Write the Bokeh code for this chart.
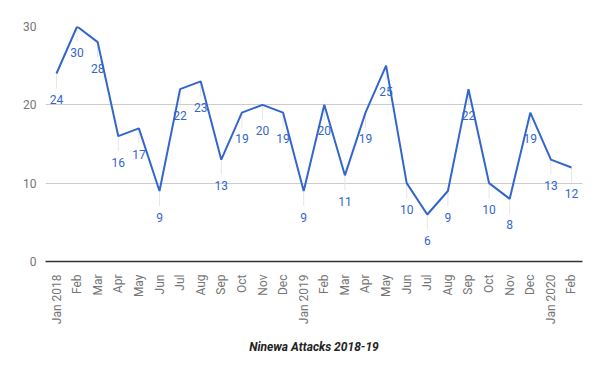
from math import pi
from bokeh.plotting import figure
from bokeh.models import Range1d, FixedTicker, ColumnDataSource
from bokeh.core.properties import value
from bokeh.embed import file_html
from bokeh.resources import INLINE

months = ["Jan 2018", "Feb", "Mar", "Apr", "May", "Jun", "Jul", "Aug", "Sep", "Oct", "Nov", "Dec",
          "Jan 2019", "Feb", "Mar", "Apr", "May", "Jun", "Jul", "Aug", "Sep", "Oct", "Nov", "Dec",
          "Jan 2020", "Feb"]
attacks = [24, 30, 28, 16, 17, 9, 22, 23, 13, 19, 20, 19,
           9, 20, 11, 19, 25, 10, 6, 9, 22, 10, 8, 19,
           13, 12]
y_ticks = [0, 10, 20, 30]
title_text = "Ninewa Attacks 2018-19"

xs = list(range(len(attacks)))
px_per_unit = 235 / 30.0
stem = 15 / px_per_unit
src = ColumnDataSource(dict(x=xs, y=attacks, y1=[v - stem for v in attacks],
                            lbl=[str(v) for v in attacks]))

p = figure(width=592, height=363, output_backend="svg", toolbar_location=None,
           x_range=Range1d(-0.534, len(attacks) - 1 + 0.534), y_range=Range1d(0, 30),
           min_border_left=45, min_border_right=10, min_border_top=26, min_border_bottom=102)
p.outline_line_color = None
p.background_fill_color = "white"

p.segment(x0="x", y0="y", x1="x", y1="y1", source=src, line_color="#e6e6e6", line_width=1)
p.line("x", "y", source=src, line_color="#3366cc", line_width=2)
p.text("x", "y", text="lbl", source=src, y_offset=26, text_align="center", text_baseline="middle",
       text_color="#3366cc", text_font=value("Roboto"), text_font_size="12px")

p.xgrid.grid_line_color = None
p.ygrid.grid_line_color = "#cccccc"
p.ygrid.ticker = FixedTicker(ticks=y_ticks)

p.yaxis.ticker = FixedTicker(ticks=y_ticks)
p.yaxis.axis_line_color = None
p.yaxis.major_tick_line_color = None
p.yaxis.minor_tick_line_color = None
p.yaxis.major_label_text_color = "#757575"
p.yaxis.major_label_text_font = "Roboto"
p.yaxis.major_label_text_font_size = "12px"
p.yaxis.major_label_standoff = 3

p.xaxis.ticker = FixedTicker(ticks=xs)
p.xaxis.major_label_overrides = {i: m for i, m in zip(xs, months)}
p.xaxis.major_label_orientation = pi / 2
p.xaxis.axis_line_color = "#333333"
p.xaxis.axis_line_width = 1.5
p.xaxis.major_tick_line_color = None
p.xaxis.minor_tick_line_color = None
p.xaxis.major_label_text_color = "#757575"
p.xaxis.major_label_text_font = "Roboto"
p.xaxis.major_label_text_font_size = "12px"
p.xaxis.major_label_standoff = 7
p.xaxis.axis_label = title_text
p.xaxis.axis_label_text_font = "Roboto"
p.xaxis.axis_label_text_font_style = "bold italic"
p.xaxis.axis_label_text_font_size = "12px"
p.xaxis.axis_label_text_color = "#222222"
p.xaxis.axis_label_standoff = 13

open("out.html", "w").write(file_html(p, INLINE))
